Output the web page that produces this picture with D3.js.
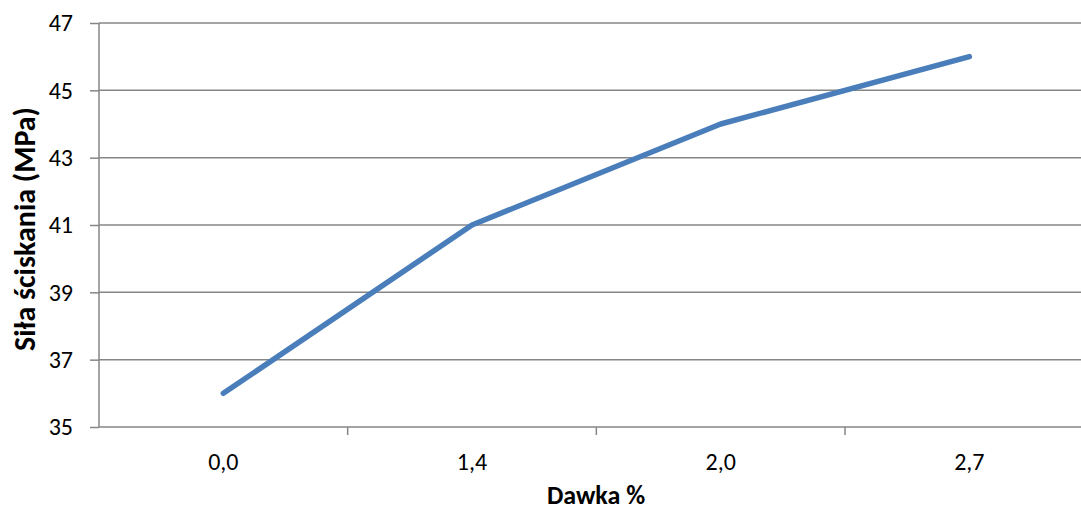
<!DOCTYPE html>
<html><head>
<meta charset="utf-8">
<script src="https://cdnjs.cloudflare.com/ajax/libs/d3/7.8.5/d3.min.js"></script>
<style>
  body { margin: 0; background: #fff; }
  svg text { font-family: Carlito, "Open Sans", "Liberation Sans", sans-serif; fill: #000; }
  .tick text { font-size: 24px; }
  .title { font-weight: bold; }
</style>
</head><body>
<script>
// dose categories and compressive strength values
var doses = ["0,0", "1,4", "2,0", "2,7"];
var strength = [36, 41, 44, 46];
var yTicks = [35, 37, 39, 41, 43, 45, 47];

var width = 1081, height = 511;
var plotLeft = 99, plotTop = 23, plotBottom = 427;
var band = 248.67;

var svg = d3.select("body").append("svg")
    .attr("width", width).attr("height", height);

var x = d3.scaleBand().domain(doses).range([plotLeft, plotLeft + band * doses.length]);
var y = d3.scaleLinear().domain([35, 47]).range([plotBottom, plotTop]);

// horizontal gridlines
svg.append("g").selectAll("line").data(yTicks.slice(1)).enter().append("line")
    .attr("x1", plotLeft).attr("x2", width)
    .attr("y1", function(d) { return y(d); }).attr("y2", function(d) { return y(d); })
    .attr("stroke", "#868686").attr("stroke-width", 1.5);

// y axis
var yAxis = svg.append("g").attr("transform", "translate(" + plotLeft + ",0)")
    .call(d3.axisLeft(y).tickValues(yTicks).tickSize(9).tickPadding(17).tickFormat(d3.format("d")));
yAxis.selectAll("line, path").attr("stroke", "#868686").attr("stroke-width", 1.5);
yAxis.select("path").attr("d", "M0," + plotTop + "V" + plotBottom);

// x axis with ticks at band boundaries
var xAxis = svg.append("g").attr("transform", "translate(0," + plotBottom + ")")
    .call(d3.axisBottom(x).tickSize(0));
xAxis.select("path").attr("d", "M" + plotLeft + ",0H" + width).attr("stroke", "#868686").attr("stroke-width", 1.5);
xAxis.selectAll(".tick text").attr("y", 43).attr("dy", null);
svg.append("g").selectAll("line").data(doses.slice(1)).enter().append("line")
    .attr("x1", function(d) { return x(d); }).attr("x2", function(d) { return x(d); })
    .attr("y1", plotBottom).attr("y2", plotBottom + 8)
    .attr("stroke", "#868686").attr("stroke-width", 1.5);

// data line
var line = d3.line()
    .x(function(d, i) { return x(doses[i]) + x.bandwidth() / 2; })
    .y(function(d) { return y(d); });
svg.append("path").datum(strength)
    .attr("d", line).attr("fill", "none")
    .attr("stroke", "#4a7ebb").attr("stroke-width", 5.5)
    .attr("stroke-linecap", "round").attr("stroke-linejoin", "round");

// axis titles
svg.append("text").attr("class", "title")
    .attr("x", 596).attr("y", 504).attr("text-anchor", "middle")
    .style("font-size", "26px")
    .text("Dawka %");
svg.append("text").attr("class", "title")
    .attr("transform", "translate(35,229) rotate(-90)").attr("text-anchor", "middle")
    .style("font-size", "30px")
    .text("Siła ściskania (MPa)");
</script>
</body></html>
